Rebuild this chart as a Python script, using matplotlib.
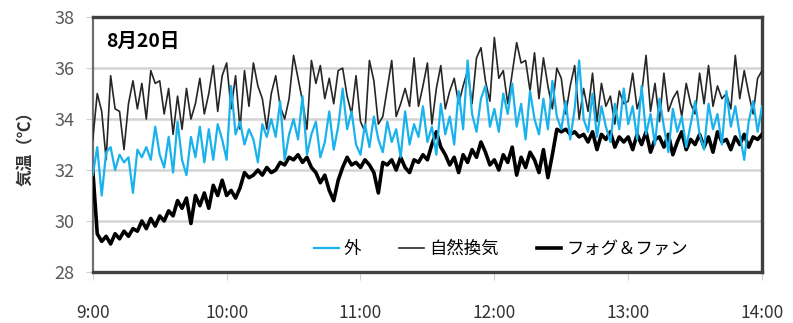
#!/usr/bin/env python3

# air temperature on Aug 20: outside vs natural ventilation vs fog & fan

import matplotlib
matplotlib.use('Agg')
import matplotlib.pyplot as plt
import numpy as np

plt.rcParams['font.family'] = ['Noto Sans CJK JP', 'DejaVu Sans']

# readings every 2 minutes, 9:00 - 14:00
step_min = 2
outside = [
    31.8, 32.9, 31.0, 32.7, 32.9, 32.0, 32.6, 32.3, 32.5, 31.1, 32.8, 32.5, 32.9, 32.4, 33.7,
    32.6, 32.1, 33.3, 31.9, 33.9, 32.4, 31.8, 33.3, 32.5, 33.7, 32.3, 33.6, 32.4, 33.8, 33.2,
    32.4, 35.3, 33.4, 33.9, 33.0, 33.6, 33.2, 32.3, 33.8, 33.3, 34.0, 33.3, 34.7, 32.4, 33.4,
    34.0, 33.2, 34.9, 32.6, 33.4, 33.9, 32.5, 33.1, 34.3, 32.8, 33.7, 35.2, 33.6, 34.3, 33.0,
    32.6, 33.8, 32.9, 34.1, 33.2, 32.7, 33.9, 33.1, 33.6, 32.5, 34.3, 33.0, 33.8, 33.3, 34.5,
    33.1, 33.7, 32.6, 34.6, 33.4, 34.1, 33.0, 35.1, 33.6, 36.3, 34.2, 33.5, 34.8, 35.3, 33.7,
    34.4, 33.5, 35.0, 34.2, 35.4, 33.7, 34.6, 33.2, 35.1, 34.0, 33.4, 34.8, 33.6, 35.5, 34.1,
    33.6, 34.7, 33.2, 34.4, 36.3, 34.0, 33.5, 35.0, 33.3, 34.5, 33.7, 33.1, 34.6, 33.6, 35.2,
    33.8, 34.5, 33.2, 35.3, 33.4, 34.2, 33.0, 34.8, 33.7, 32.7, 34.4, 33.5, 34.1, 32.9, 33.8,
    34.7, 33.4, 32.8, 34.6, 33.6, 34.2, 33.0, 35.1, 33.7, 34.5, 33.4, 32.4, 33.9, 34.7, 33.5,
    34.5,
]
natural = [
    33.2, 35.0, 34.3, 32.4, 35.7, 34.4, 34.3, 32.8, 34.6, 35.5, 34.4, 35.4, 34.0, 35.9, 35.4,
    35.5, 34.2, 35.2, 33.4, 34.9, 33.6, 35.2, 34.0, 34.6, 35.6, 34.2, 35.0, 36.1, 34.3, 35.7,
    36.2, 34.4, 35.7, 33.6, 35.9, 34.5, 36.2, 35.3, 34.8, 33.6, 35.0, 35.7, 34.5, 34.0, 34.8,
    36.5, 35.6, 34.7, 33.6, 36.3, 35.4, 36.1, 34.8, 35.6, 34.6, 35.9, 36.0, 34.9, 34.2, 35.7,
    33.9, 33.5, 36.3, 35.5, 33.8, 34.1, 35.2, 36.3, 34.1, 34.6, 35.2, 34.5, 36.4, 34.5, 35.3,
    36.2, 33.8, 35.2, 36.1, 34.4, 35.1, 35.6, 34.6, 35.3, 35.9, 34.6, 36.4, 36.8, 35.5, 34.7,
    37.2, 35.6, 35.9, 34.6, 35.8, 37.0, 36.2, 36.3, 35.1, 36.6, 34.8, 36.4, 35.3, 34.4, 36.0,
    35.6, 34.2, 35.3, 36.1, 34.0, 35.2, 34.3, 35.8, 33.9, 35.4, 34.5, 34.9, 33.8, 35.1, 34.6,
    34.7, 35.8, 34.4, 35.0, 36.5, 34.3, 35.4, 33.9, 35.8, 34.3, 34.8, 35.1, 34.1, 35.4, 34.6,
    34.2, 35.8, 34.6, 36.1, 34.5, 35.3, 34.8, 35.0, 34.4, 36.5, 34.8, 35.9, 35.0, 34.2, 35.6,
    35.9,
]
fogfan = [
    32.0, 29.5, 29.2, 29.4, 29.1, 29.5, 29.3, 29.6, 29.4, 29.7, 29.6, 30.0, 29.7, 30.1, 29.8,
    30.2, 30.0, 30.4, 30.2, 30.8, 30.5, 30.9, 29.9, 31.0, 30.6, 31.1, 30.5, 31.4, 31.0, 31.6,
    31.0, 31.2, 30.9, 31.3, 31.9, 31.7, 31.8, 32.0, 31.8, 32.1, 31.9, 32.0, 32.3, 32.2, 32.5,
    32.4, 32.6, 32.3, 32.5, 32.1, 31.9, 31.5, 31.8, 31.2, 30.8, 31.6, 32.1, 32.5, 32.2, 32.3,
    32.1, 32.4, 32.2, 31.9, 31.1, 32.3, 32.2, 32.4, 32.0, 32.5, 32.1, 31.9, 32.4, 32.3, 32.6,
    32.4, 33.0, 33.5, 32.9, 32.6, 32.2, 32.5, 31.9, 32.6, 32.3, 32.8, 32.5, 33.1, 32.7, 32.2,
    32.4, 32.0, 32.6, 32.3, 32.9, 31.8, 32.5, 32.1, 32.7, 32.4, 31.9, 32.8, 31.7, 32.6, 33.6,
    33.5, 33.6, 33.4, 33.5, 33.3, 33.4, 33.1, 33.5, 32.8, 33.4, 33.2, 33.5, 32.9, 33.3, 33.1,
    33.3, 32.8, 33.4, 33.0, 33.5, 32.7, 33.2, 33.3, 32.9, 33.4, 32.6, 33.1, 33.5, 32.8, 33.2,
    33.0, 33.4, 32.9, 33.3, 32.7, 33.5, 33.1, 33.2, 32.8, 33.3, 33.0, 33.4, 32.9, 33.3, 33.2,
    33.4,
]
hour_ticks = [9, 10, 11, 12, 13, 14]
hour_labels = ['9:00', '10:00', '11:00', '12:00', '13:00', '14:00']
labels = ['外', '自然換気', 'フォグ＆ファン']

t = 9 + np.arange(len(outside)) * step_min / 60.0

fig = plt.figure(figsize=(7.93, 3.23), dpi=100)
ax = fig.add_axes([0.117, 0.158, 0.844, 0.789])

ax.plot(t, fogfan, color='black', lw=2.6, label=labels[2], zorder=3)
ax.plot(t, natural, color='#262626', lw=1.2, label=labels[1], zorder=4)
ax.plot(t, outside, color='#1ab2ec', lw=1.6, label=labels[0], zorder=5)

ax.set_xlim(9, 14)
ax.set_ylim(28, 38)
ax.set_yticks([28, 30, 32, 34, 36, 38])
ax.set_xticks(hour_ticks)
ax.set_xticklabels(hour_labels)
ax.grid(axis='y', color='#d4d4d4', lw=1.8)
ax.set_axisbelow(True)

for s in ax.spines.values():
    s.set_color('#404040')
    s.set_linewidth(2.4)
ax.spines['left'].set_color('#6e6e6e')
ax.spines['left'].set_linewidth(1.6)

ax.tick_params(axis='x', length=6, color='#d0d0d0', pad=17, labelsize=12.5, labelcolor='#333333')
ax.tick_params(axis='y', length=5, color='#d0d0d0', pad=8, labelsize=13, labelcolor='#595959')
ax.set_ylabel('気温（℃）', fontsize=12, fontweight='bold', color='#333333', labelpad=14)

ax.text(0.02, 0.94, '8月20日', transform=ax.transAxes, fontsize=14, fontweight='bold',
        va='top', ha='left')

# legend in the order 外, 自然換気, フォグ&ファン
h, l = ax.get_legend_handles_labels()
order = [2, 1, 0]
ax.legend([h[i] for i in order], [l[i] for i in order], ncol=3, frameon=False,
          loc='center', bbox_to_anchor=(0.61, 0.09), fontsize=12.5,
          handlelength=1.4, handletextpad=0.3, columnspacing=2.2)

plt.savefig('out.png', dpi=100)
